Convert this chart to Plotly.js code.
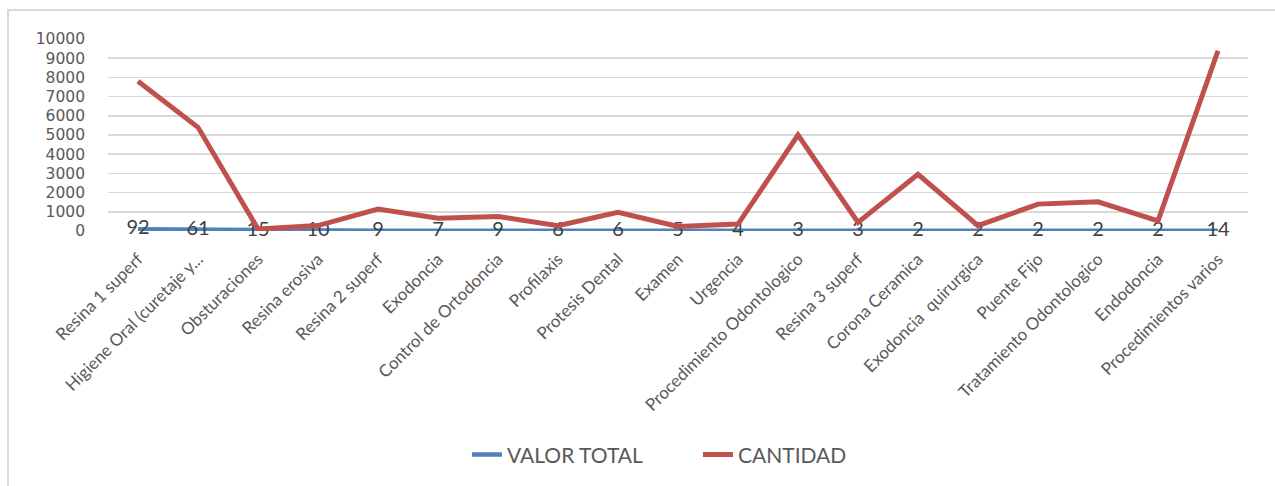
<!DOCTYPE html>
<html>
<head>
<meta charset="utf-8">
<script src="https://cdn.plot.ly/plotly-3.0.1.min.js"></script>
<style>
  body { margin: 0; background: #fff; }
  #wrap { position: relative; width: 1275px; height: 486px; }
  #myPlot { position: absolute; left: 0; top: 0; width: 1275px; height: 486px; }
  #frame { position: absolute; left: 7px; top: 9px; width: 1280px; height: 490px;
           border-left: 2px solid #d9d9d9; border-top: 2px solid #d9d9d9; pointer-events: none; }
</style>
</head>
<body>
<div id="wrap">
  <div id="myPlot"></div>
  <div id="frame"></div>
</div>
<script>
// procedimientos
var categorias = ["Resina 1 superf", "Higiene Oral (curetaje y...", "Obsturaciones", "Resina erosiva",
  "Resina 2 superf", "Exodoncia", "Control de Ortodoncia", "Profilaxis", "Protesis Dental",
  "Examen", "Urgencia", "Procedimiento Odontologico", "Resina 3 superf", "Corona Ceramica",
  "Exodoncia  quirurgica", "Puente Fijo", "Tratamiento Odontologico", "Endodoncia", "Procedimientos varios"];

var valorTotal = [92, 61, 15, 10, 9, 7, 9, 6, 6, 5, 4, 3, 3, 2, 2, 2, 2, 2, 14];
var cantidad = [7800, 5400, 100, 280, 1140, 670, 760, 280, 970, 240, 360, 5000, 450, 2950, 280, 1400, 1520, 530, 9390];

var yTicks = [0, 1000, 2000, 3000, 4000, 5000, 6000, 7000, 8000, 9000, 10000];

var fuente = "Lato, 'Open Sans', sans-serif";

var data = [{
  x: categorias,
  y: valorTotal,
  name: "VALOR TOTAL",
  mode: "lines+text",
  text: valorTotal.map(String),
  textposition: "middle center",
  textfont: {family: fuente, size: 20, color: "#404040"},
  line: {color: "#4F81BD", width: 4.5},
  cliponaxis: false
}, {
  x: categorias,
  y: cantidad,
  name: "CANTIDAD",
  mode: "lines",
  line: {color: "#C0504D", width: 5},
  cliponaxis: false
}];

var layout = {
  width: 1275,
  height: 486,
  margin: {l: 108, r: 27, t: 39, b: 254},
  paper_bgcolor: "rgba(0,0,0,0)",
  plot_bgcolor: "#fff",
  font: {family: fuente, color: "#595959"},
  showlegend: true,
  legend: {
    orientation: "h", x: 0.5175, xanchor: "center", y: -1.155, yanchor: "middle",
    font: {size: 21, color: "#595959"}, traceorder: "normal",
    entrywidth: 186
  },
  xaxis: {
    type: "category",
    tickangle: -45,
    tickfont: {size: 17, color: "#595959"},
    ticklabelstandoff: 14,
    showgrid: false,
    showline: false,
    zeroline: false,
    ticks: "",
    range: [-0.5, 18.5]
  },
  yaxis: {
    range: [0, 10000],
    tickvals: yTicks,
    ticktext: yTicks.map(String),
    tickfont: {family: "'DejaVu Sans', sans-serif", size: 15.5, color: "#595959"},
    ticklabelstandoff: 22,
    gridcolor: "#d9d9d9",
    gridwidth: 1.5,
    zeroline: false,
    showline: false
  }
};

Plotly.newPlot("myPlot", data, layout, {displayModeBar: false, staticPlot: true});
</script>
</body>
</html>
